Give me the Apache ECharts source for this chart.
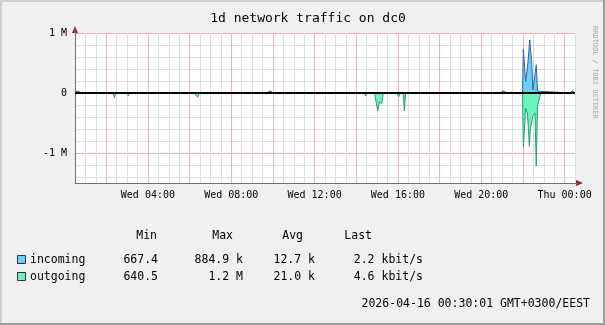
<!DOCTYPE html>
<html>
<head>
<meta charset="utf-8">
<script src="https://cdn.jsdelivr.net/npm/echarts@6/dist/echarts.min.js"></script>
<style>
html,body{margin:0;padding:0;background:#f0f0f0;}
#chart{width:605px;height:325px;}
</style>
</head>
<body>
<div id="chart"></div>
<script>
// ---- data (hours since Wed 00:00, bits per second) ----
const chartTitle = '1d network traffic on dc0';
const incomingHours  = [0.5, 0.56, 0.62, 0.7, 0.78, 0.84, 9.6, 9.68, 9.74, 9.8, 9.87, 9.94, 9.99, 15.98, 16.04, 16.1,
  20.78, 20.85, 20.92, 21.0, 21.07, 21.14, 21.2, 21.98, 22.02, 22.1, 22.13, 22.2, 22.24, 22.33, 22.36, 22.42, 22.48,
  22.56, 22.64, 22.7, 22.74, 24.24, 24.3, 24.38, 24.44, 24.5];
const incomingValues = [3000, 30000, 38000, 30000, 4000, 3000, 3000, 36000, 8000, 6000, 36000, 8000, 3000, 3000, 20000, 3000,
  3000, 35000, 8000, 6000, 35000, 4000, 3000, 3000, 736000, 730000, 190000, 190000, 500000, 885000, 720000, 540000, 50000,
  50000, 470000, 30000, 5000, 3000, 35000, 35000, 4000, 2000];
const outgoingHours  = [0.5, 2.33, 2.39, 2.45, 3.01, 3.06, 3.11, 3.95, 4.0, 4.05, 6.24, 6.3, 6.39, 6.46, 7.25, 7.3, 7.35,
  11.63, 11.68, 11.73, 13.94, 13.99, 14.04, 14.4, 14.45, 14.5, 14.88, 14.93, 15.03, 15.11, 15.22, 15.3,
  15.96, 16.04, 16.1, 16.25, 16.31, 16.37, 18.71, 18.76, 18.81,
  21.98, 22.02, 22.1, 22.13, 22.22, 22.31, 22.36, 22.47, 22.58, 22.64, 22.7, 22.77, 22.82, 22.87, 24.5];
const outgoingValues = [-3000, -3000, -80000, -3000, -3000, -45000, -3000, -3000, -10000, -3000, -3000, -30000, -70000, -3000, -3000, -10000, -3000,
  -3000, -8000, -3000, -3000, -12000, -3000, -3000, -50000, -3000, -3000, -10000, -300000, -150000, -180000, -5000,
  -5000, -60000, -5000, -5000, -300000, -5000, -3000, -10000, -3000,
  -3000, -900000, -900000, -250000, -350000, -890000, -600000, -390000, -330000, -1220000, -220000, -200000, -50000, -3000, -3000];
const seriesNames = ['incoming', 'outgoing'];
const colHeaders = ['Min', 'Max', 'Avg', 'Last'];
const minVals  = ['667.4', '640.5'];
const maxVals  = ['884.9 k', '1.2 M'];
const avgVals  = ['12.7 k', '21.0 k'];
const lastVals = ['2.2 kbit/s', '4.6 kbit/s'];
const footerText = '2026-04-16 00:30:01 GMT+0300/EEST';
const watermark = 'RRDTOOL / TOBI OETIKER';
const yTickLabels = {'1000000': '1 M', '0': '0', '-1000000': '-1 M'};

// ---- styles ----
const MONO = '"DejaVu Sans Mono", "Liberation Mono", monospace';
const GRID_MINOR = '#dedede';
const GRID_MAJOR = '#f2b3b3';
const NONE = 'rgba(0,0,0,0)';
const fillColors = ['#6ccff6', '#6cf2be'];
const lineColors = ['#2f64a6', '#27a070'];

const zip = (a, b) => a.map((v, i) => [v, b[i]]);

const chart = echarts.init(document.getElementById('chart'), null, {renderer: 'canvas'});

const graphics = [];
// 3D border
graphics.push({type: 'rect', shape: {x: 0, y: 0, width: 605, height: 2}, style: {fill: '#cfcfcf'}, silent: true});
graphics.push({type: 'rect', shape: {x: 0, y: 0, width: 2, height: 325}, style: {fill: '#cfcfcf'}, silent: true});
graphics.push({type: 'rect', shape: {x: 0, y: 323, width: 605, height: 2}, style: {fill: '#9e9e9e'}, silent: true});
graphics.push({type: 'rect', shape: {x: 603, y: 0, width: 2, height: 325}, style: {fill: '#9e9e9e'}, silent: true});
// axis arrows
graphics.push({type: 'polygon', shape: {points: [[75, 26], [72, 33], [78, 33]]}, style: {fill: '#a02020'}, z: 10, silent: true});
graphics.push({type: 'polygon', shape: {points: [[583, 183], [576, 180], [576, 186]]}, style: {fill: '#a02020'}, z: 10, silent: true});
graphics.push({type: 'line', shape: {x1: 75, y1: 33, x2: 75, y2: 28}, style: {stroke: '#707070', lineWidth: 1}, z: 10, silent: true});
graphics.push({type: 'line', shape: {x1: 575, y1: 183.5, x2: 578, y2: 183.5}, style: {stroke: '#707070', lineWidth: 1}, z: 10, silent: true});
// watermark
graphics.push({type: 'text', x: 595, y: 26, rotation: -Math.PI / 2,
  style: {text: watermark, font: '7px ' + MONO, fill: '#aaaaaa', textAlign: 'left', textVerticalAlign: 'middle'}, silent: true});
// legend headers
const headerRight = [157, 233, 303, 372];
colHeaders.forEach((h, i) => {
  graphics.push({type: 'text', x: headerRight[i], y: 236,
    style: {text: h, font: '11.5px ' + MONO, fill: '#000', textAlign: 'right', textVerticalAlign: 'middle'}, silent: true});
});
const rowY = [260, 277];
const colRight = [158, 243, 315, 423];
seriesNames.forEach((name, r) => {
  graphics.push({type: 'rect', shape: {x: 17.5, y: rowY[r] - 4.5, width: 8, height: 8},
    style: {fill: fillColors[r], stroke: '#333', lineWidth: 1}, silent: true});
  graphics.push({type: 'text', x: 30, y: rowY[r],
    style: {text: name, font: '11.5px ' + MONO, fill: '#000', textAlign: 'left', textVerticalAlign: 'middle'}, silent: true});
  [minVals[r], maxVals[r], avgVals[r], lastVals[r]].forEach((t, c) => {
    graphics.push({type: 'text', x: colRight[c], y: rowY[r],
      style: {text: t, font: '11.5px ' + MONO, fill: '#000', textAlign: 'right', textVerticalAlign: 'middle'}, silent: true});
  });
});
graphics.push({type: 'text', x: 590, y: 304,
  style: {text: footerText, font: '11.5px ' + MONO, fill: '#000', textAlign: 'right', textVerticalAlign: 'middle'}, silent: true});

const option = {
  backgroundColor: '#f0f0f0',
  animation: false,
  title: {text: chartTitle, left: 303, textAlign: 'center', top: 7,
    textStyle: {fontFamily: MONO, fontSize: 13, fontWeight: 'normal', color: '#000'}},
  grid: {left: 75, right: 30, top: 33, bottom: 142, show: true, backgroundColor: '#ffffff', borderWidth: 0},
  xAxis: {
    type: 'value', min: 0.5, max: 24.5, interval: 0.5,
    axisLine: {show: true, onZero: false, lineStyle: {color: '#707070', width: 1}},
    axisTick: {show: false},
    splitLine: {show: true, lineStyle: {color: [GRID_MINOR, GRID_MINOR, GRID_MINOR, GRID_MAJOR], width: 1}},
    axisLabel: {
      show: true, margin: 7, fontFamily: MONO, fontSize: 10, color: '#000',
      formatter: v => {
        if (Math.abs(v % 4) > 1e-9) return '';
        const day = v < 24 ? 'Wed' : 'Thu';
        const hh = String(v % 24).padStart(2, '0');
        return day + ' ' + hh + ':00';
      }
    }
  },
  yAxis: {
    type: 'value', min: -1500000, max: 1000000, interval: 100000,
    axisLine: {show: true, lineStyle: {color: '#707070', width: 1}},
    axisTick: {show: false},
    splitLine: {show: true, lineStyle: {color: [NONE, GRID_MINOR, NONE, GRID_MINOR, NONE, GRID_MAJOR, NONE, GRID_MINOR, NONE, GRID_MINOR], width: 1}},
    axisLabel: {show: true, margin: 8, fontFamily: MONO, fontSize: 10, color: '#000',
      formatter: v => (yTickLabels[String(v)] !== undefined ? yTickLabels[String(v)] : '')}
  },
  series: [
    {
      name: seriesNames[0], type: 'line', data: zip(incomingHours, incomingValues),
      symbol: 'none', smooth: false,
      lineStyle: {color: lineColors[0], width: 1},
      areaStyle: {color: fillColors[0], opacity: 1},
      z: 2
    },
    {
      name: seriesNames[1], type: 'line', data: zip(outgoingHours, outgoingValues),
      symbol: 'none', smooth: false,
      lineStyle: {color: lineColors[1], width: 1},
      areaStyle: {color: fillColors[1], opacity: 1},
      z: 3,
      markLine: {silent: true, symbol: ['none', 'none'], label: {show: false},
        lineStyle: {color: '#000', width: 2, type: 'solid'},
        data: [{yAxis: 0}]}
    }
  ],
  graphic: graphics
};
chart.setOption(option);
</script>
</body>
</html>
